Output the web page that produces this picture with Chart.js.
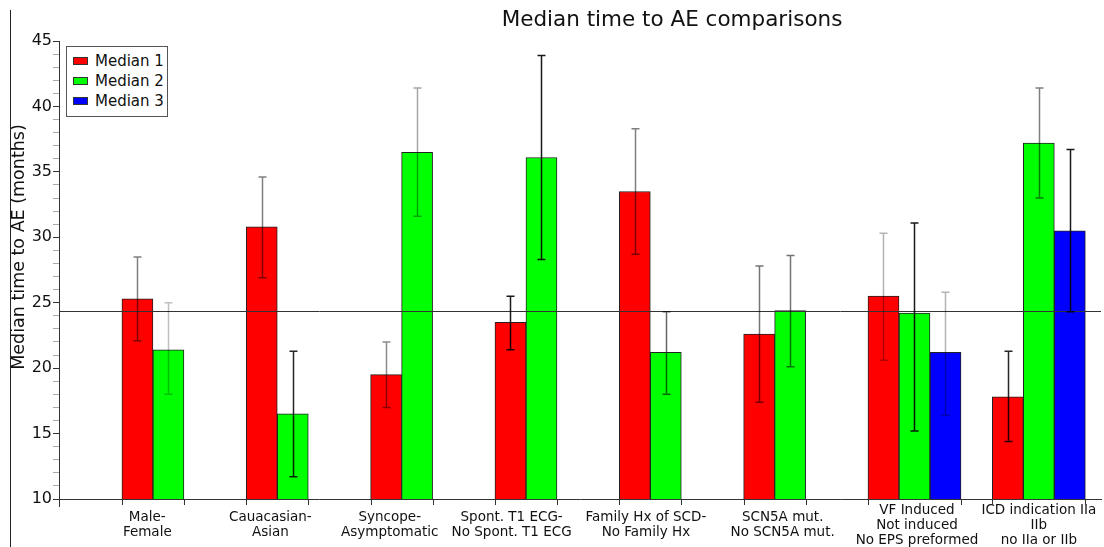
<!DOCTYPE html>
<html>
<head>
<meta charset="utf-8">
<script src="https://cdn.jsdelivr.net/npm/chart.js@4.4.1/dist/chart.umd.min.js"></script>
<style>
    body { margin: 0; background: #fff; }
    #wrap { position: relative; width: 1104px; height: 547px; }
    #titre { position: absolute; top: 6px; left: 672px; transform: translateX(-50%);
             font: 21.5px "DejaVu Sans", sans-serif; color: #111; white-space: nowrap; }
    #cadre { position: absolute; left: 10px; top: 10px; width: 1px; height: 537px; background: #222; }
    #legende { position: absolute; left: 66px; top: 46px; width: 102px; height: 71px; box-sizing: border-box;
               border: 1px solid #555; background: #fff; padding-top: 4px; }
    .item { display: flex; align-items: center; height: 20px; font: 15px "DejaVu Sans", sans-serif; color: #111; }
    .carre { width: 13px; height: 6px; border: 1px solid #333; margin: 0 7px 0 6px; }
</style>
</head>
<body>
<div id="wrap">
    <canvas id="graphique" width="1104" height="547"></canvas>
    <div id="cadre"></div>
    <div id="titre">Median time to AE comparisons</div>
    <div id="legende"></div>
</div>
<script>
// --- DONNÉES ---
const categories = [
    ["Male-", "Female"],
    ["Cauacasian-", "Asian"],
    ["Syncope-", "Asymptomatic"],
    ["Spont. T1 ECG-", "No Spont. T1 ECG"],
    ["Family Hx of SCD-", "No Family Hx"],
    ["SCN5A mut.", "No SCN5A mut."],
    ["VF Induced", "Not induced", "No EPS preformed"],
    ["ICD indication IIa", "IIb", "no IIa or IIb"]
];
const seriesNames = ["Median 1", "Median 2", "Median 3"];

const median1 = [25.3, 30.8, 19.5, 23.5, 33.5, 22.6, 25.5, 17.8];
const median1Low = [22.1, 26.9, 17.0, 21.4, 28.7, 17.4, 20.6, 14.4];
const median1High = [28.5, 34.6, 22.0, 25.5, 38.3, 27.8, 30.3, 21.3];

const median2 = [21.4, 16.5, 36.5, 36.1, 21.2, 24.4, 24.2, 37.2];
const median2Low = [18.0, 11.7, 31.6, 28.3, 18.0, 20.1, 15.2, 33.0];
const median2High = [25.0, 21.3, 41.4, 43.9, 24.3, 28.6, 31.1, 41.4];

const median3 = [null, null, null, null, null, null, 21.2, 30.5];
const median3Low = [null, null, null, null, null, null, 16.4, 24.3];
const median3High = [null, null, null, null, null, null, 25.8, 36.7];

const ligneRef = 24.4;
const yTicks = { min: 10, max: 45 };

// décalage des étiquettes X (en unités de catégorie) et opacité des barres d'erreur (style)
const decalageEtiquettes = [-0.17, -0.18, -0.22, -0.24, -0.16, -0.06, 0.02, 0.0];
const alpha1 = [0.5, 0.5, 0.45, 0.9, 0.5, 0.55, 0.3, 0.85];
const alpha2 = [0.25, 0.85, 0.35, 0.9, 0.6, 0.55, 0.9, 0.5];
const alpha3 = [0, 0, 0, 0, 0, 0, 0.3, 0.9];

const POLICE = "'DejaVu Sans', sans-serif";

function points(valeurs) {
    return valeurs.map((v, i) => ({ x: i, y: v }));
}

// --- PLUGIN : barres d'erreur, ligne de référence, titre Y, graduations X ---
const decorations = {
    id: 'decorations',
    afterDatasetsDraw(chart) {
        const ctx = chart.ctx;
        const ys = chart.scales.y;
        const area = chart.chartArea;

        // ligne horizontale de référence
        const yr = Math.round(ys.getPixelForValue(ligneRef)) + 0.5;
        ctx.save();
        ctx.strokeStyle = '#333';
        ctx.lineWidth = 1;
        ctx.beginPath(); ctx.moveTo(area.left, yr); ctx.lineTo(area.right, yr); ctx.stroke();

        // barres d'erreur
        chart.data.datasets.forEach((ds, d) => {
            chart.getDatasetMeta(d).data.forEach((barre, i) => {
                if (ds.low[i] == null) return;
                const x = Math.round(barre.x) + 0.5;
                const yh = ys.getPixelForValue(ds.high[i]);
                const yl = ys.getPixelForValue(ds.low[i]);
                ctx.strokeStyle = `rgba(0,0,0,${ds.errAlpha[i]})`;
                ctx.lineWidth = 1.5;
                ctx.beginPath();
                ctx.moveTo(x, yh); ctx.lineTo(x, yl);
                ctx.moveTo(x - 4, yh); ctx.lineTo(x + 4, yh);
                ctx.moveTo(x - 4, yl); ctx.lineTo(x + 4, yl);
                ctx.stroke();
            });
        });

        // graduations de l'axe X aux bords des groupes
        ctx.strokeStyle = '#333';
        ctx.lineWidth = 1;
        categories.forEach((c, i) => {
            const barres = chart.data.datasets
                .map((ds, d) => chart.getDatasetMeta(d).data[i])
                .filter((b, d) => chart.data.datasets[d].data[i].y != null);
            const gauche = Math.round(barres[0].x - barres[0].width / 2) + 0.5;
            const der = barres[barres.length - 1];
            const droite = Math.round(der.x + der.width / 2) + 0.5;
            [gauche, droite].forEach(px => {
                ctx.beginPath(); ctx.moveTo(px, area.bottom); ctx.lineTo(px, area.bottom + 6); ctx.stroke();
            });
        });
        ctx.beginPath(); ctx.moveTo(area.left + 0.5, area.bottom); ctx.lineTo(area.left + 0.5, area.bottom + 8); ctx.stroke();

        // titre de l'axe Y
        ctx.fillStyle = '#111';
        ctx.font = `17.5px ${POLICE}`;
        ctx.textAlign = 'center';
        ctx.textBaseline = 'middle';
        ctx.translate(19, 247);
        ctx.rotate(-Math.PI / 2);
        ctx.fillText('Median time to AE (months)', 0, 0);
        ctx.restore();
    }
};

const graphique = new Chart(document.getElementById('graphique'), {
    type: 'bar',
    data: {
        datasets: [
            { label: seriesNames[0], data: points(median1), low: median1Low, high: median1High, errAlpha: alpha1,
              backgroundColor: '#ff0000', borderColor: '#222', borderWidth: 1 },
            { label: seriesNames[1], data: points(median2), low: median2Low, high: median2High, errAlpha: alpha2,
              backgroundColor: '#00ff00', borderColor: '#222', borderWidth: 1 },
            { label: seriesNames[2], data: points(median3), low: median3Low, high: median3High, errAlpha: alpha3,
              backgroundColor: '#0000ff', borderColor: '#222', borderWidth: 1 }
        ]
    },
    options: {
        responsive: false,
        animation: false,
        barThickness: 31,
        layout: { padding: { top: 41, right: 3, left: 0, bottom: 0 } },
        plugins: {
            legend: { display: false },
            title: { display: false },
            tooltip: { enabled: false }
        },
        scales: {
            x: {
                type: 'linear',
                offset: false,
                min: -0.88,
                max: 7.5,
                grid: { display: false },
                border: { display: true, color: '#333', width: 1 },
                afterBuildTicks: (scale) => {
                    scale.ticks = categories.map((c, i) => ({ value: i + decalageEtiquettes[i] }));
                },
                afterFit: (scale) => { scale.height = 48; scale.paddingLeft = 0; scale.paddingRight = 0; },
                ticks: {
                    autoSkip: false,
                    maxRotation: 0,
                    padding: 3,
                    crossAlign: 'center',
                    color: '#111',
                    font: { family: POLICE, size: 13.5, lineHeight: '15px' },
                    callback: (v) => categories[Math.round(v)]
                }
            },
            y: {
                min: yTicks.min,
                max: yTicks.max,
                grid: {
                    drawOnChartArea: false,
                    drawTicks: true,
                    tickLength: 6,
                    tickColor: (c) => (c.tick && c.tick.value % 5 === 0) ? '#333' : '#aaa'
                },
                border: { display: true, color: '#333', width: 1 },
                afterFit: (scale) => { scale.width = 59; scale.paddingTop = 0; scale.paddingBottom = 0; },
                ticks: {
                    stepSize: 1,
                    autoSkip: false,
                    padding: 1,
                    color: '#111',
                    font: { family: POLICE, size: 16 },
                    callback: (v) => (v % 5 === 0 ? String(v) : '')
                }
            }
        }
    },
    plugins: [decorations]
});

// --- LÉGENDE ---
const legende = document.getElementById('legende');
graphique.data.datasets.forEach(ds => {
    const item = document.createElement('div');
    item.className = 'item';
    item.innerHTML = `<span class="carre" style="background:${ds.backgroundColor}"></span>${ds.label}`;
    legende.appendChild(item);
});
</script>
</body>
</html>
